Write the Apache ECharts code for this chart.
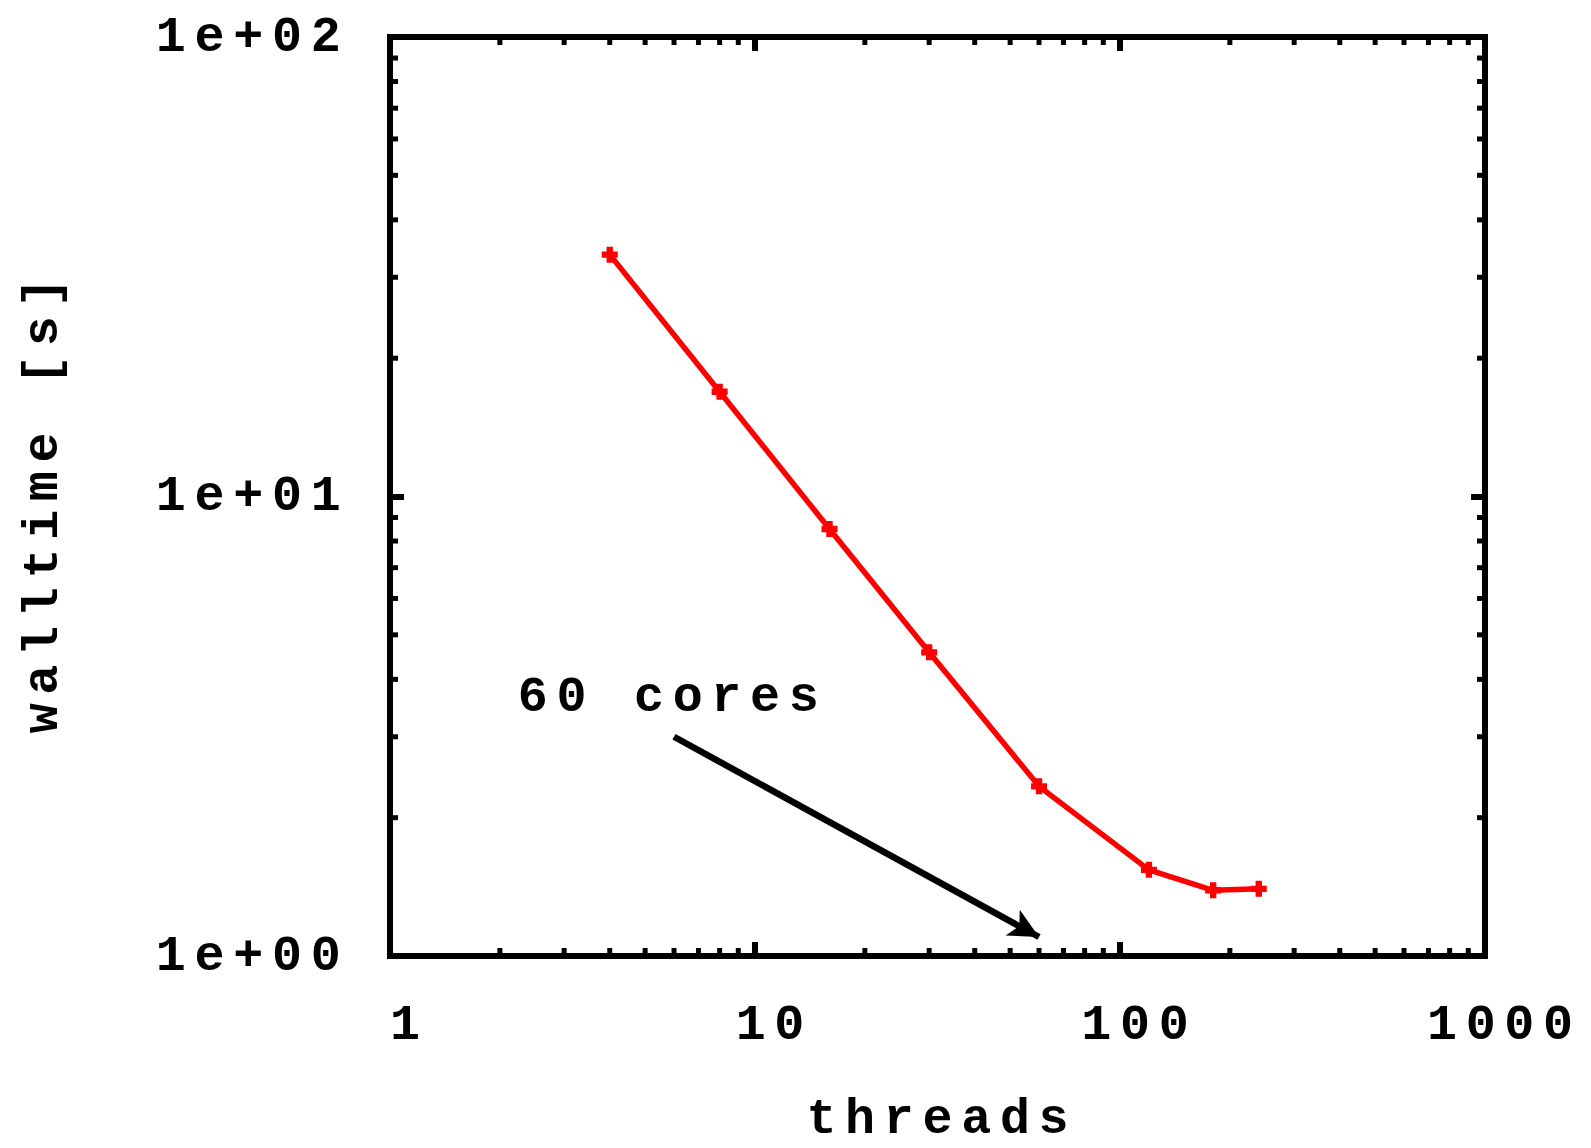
<!DOCTYPE html>
<html>
<head>
<meta charset="utf-8">
<script src="https://cdn.jsdelivr.net/npm/echarts@6/dist/echarts.min.js"></script>
<style>
  html, body { margin: 0; padding: 0; background: #fff; }
  #chart { width: 1591px; height: 1148px; }
</style>
</head>
<body>
<div id="chart"></div>
<script>
// data
const threads = [4, 8, 16, 30, 60, 120, 180, 240];
const walltime = [33.6, 16.9, 8.5, 4.58, 2.34, 1.54, 1.39, 1.40];

// minor tick values (log axes)
const xMinor = [2, 3, 4, 5, 6, 7, 8, 9, 20, 30, 40, 50, 60, 70, 80, 90, 200, 300, 400, 500, 600, 700, 800, 900];
const yMinor = [2, 3, 4, 5, 6, 7, 8, 9, 20, 30, 40, 50, 60, 70, 80, 90];

// annotation
const arrowFrom = [6, 3];
const arrowTo = [60, 1.1];
const noteAt = [2.18, 3.65];
const noteText = '60 cores';

const FONT = 'Liberation Mono';
const CHAR_W = 38.7;

// gnuplot's font is drawn wide: put every char in its own fixed-width box
function spaced(s) {
  return s.split('').map(function (c) { return '{c|' + c + '}'; }).join('');
}
const rich = {
  c: { width: CHAR_W, align: 'center', fontFamily: FONT, fontWeight: 'bold', fontSize: 50, color: '#000' }
};
const richName = {
  c: { width: CHAR_W, align: 'center', fontFamily: FONT, fontWeight: 'bold', fontSize: 50, lineHeight: 40, color: '#000' }
};

function minorTicks(dir) {
  return function (params, api) {
    const cs = params.coordSys;
    const pt = api.coord([api.value(0), api.value(1)]);
    const len = 8;
    const style = { stroke: '#000', lineWidth: 5 };
    if (dir === 'x') {
      return { type: 'group', children: [
        { type: 'line', shape: { x1: pt[0], y1: cs.y + cs.height, x2: pt[0], y2: cs.y + cs.height - len }, style: style },
        { type: 'line', shape: { x1: pt[0], y1: cs.y, x2: pt[0], y2: cs.y + len }, style: style }
      ] };
    }
    return { type: 'group', children: [
      { type: 'line', shape: { x1: cs.x, y1: pt[1], x2: cs.x + len, y2: pt[1] }, style: style },
      { type: 'line', shape: { x1: cs.x + cs.width, y1: pt[1], x2: cs.x + cs.width - len, y2: pt[1] }, style: style }
    ] };
  };
}

const chart = echarts.init(document.getElementById('chart'), null, { renderer: 'svg' });

const tick = { show: true, inside: true, length: 14, lineStyle: { color: '#000', width: 6 } };

const option = {
  backgroundColor: '#fff',
  animation: false,
  grid: {
    left: 390, right: 106, top: 37, bottom: 192,
    outerBoundsMode: 'none',
    containLabel: false,
    show: true, borderColor: '#000', borderWidth: 6, backgroundColor: 'transparent'
  },
  xAxis: [
    {
      type: 'log', logBase: 10, min: 1, max: 1000, position: 'bottom',
      axisLine: { show: false }, splitLine: { show: false },
      axisTick: tick,
      axisLabel: {
        margin: 44,
        padding: [0, 0, 0, 30],
        formatter: function (v) { return spaced(String(Math.round(v))); },
        rich: rich
      },
      name: spaced('threads'),
      nameLocation: 'middle',
      nameGap: 143,
      nameTextStyle: { rich: richName }
    },
    {
      type: 'log', logBase: 10, min: 1, max: 1000, position: 'top',
      axisLine: { show: false }, splitLine: { show: false },
      axisTick: tick, axisLabel: { show: false }
    }
  ],
  yAxis: [
    {
      type: 'log', logBase: 10, min: 1, max: 100, position: 'left',
      axisLine: { show: false }, splitLine: { show: false },
      axisTick: tick,
      axisLabel: {
        margin: 45,
        formatter: function (v) {
          const e = Math.round(Math.log10(v));
          return spaced('1e+' + (e < 10 ? '0' : '') + e);
        },
        rich: rich
      },
      name: spaced('walltime [s]'),
      nameLocation: 'middle',
      nameRotate: 90,
      nameGap: 322,
      nameTextStyle: { rich: rich, padding: [0, 18, 0, 0] }
    },
    {
      type: 'log', logBase: 10, min: 1, max: 100, position: 'right',
      axisLine: { show: false }, splitLine: { show: false },
      axisTick: tick, axisLabel: { show: false }
    }
  ],
  series: [
    {
      type: 'line',
      data: threads.map(function (t, i) { return [t, walltime[i]]; }),
      lineStyle: { color: '#ff0000', width: 5.5 },
      itemStyle: { color: '#ff0000' },
      symbol: 'path://M3,0H7V3H10V7H7V10H3V7H0V3H3Z',
      symbolSize: 16,
      markLine: {
        silent: true,
        symbol: ['none', 'arrow'],
        symbolSize: [22, 30],
        lineStyle: { color: '#000', width: 6.5, type: 'solid' },
        label: { show: false },
        data: [[{ coord: arrowFrom }, { coord: arrowTo }]]
      },
      markPoint: {
        silent: true,
        symbol: 'circle',
        symbolSize: 0,
        label: {
          show: true,
          position: 'right',
          distance: 0,
          formatter: spaced(noteText),
          rich: rich
        },
        data: [{ coord: noteAt }]
      }
    },
    {
      type: 'custom',
      silent: true,
      clip: false,
      renderItem: minorTicks('x'),
      data: xMinor.map(function (v) { return [v, 1]; })
    },
    {
      type: 'custom',
      silent: true,
      clip: false,
      renderItem: minorTicks('y'),
      data: yMinor.map(function (v) { return [1, v]; })
    }
  ]
};

chart.setOption(option);
</script>
</body>
</html>
